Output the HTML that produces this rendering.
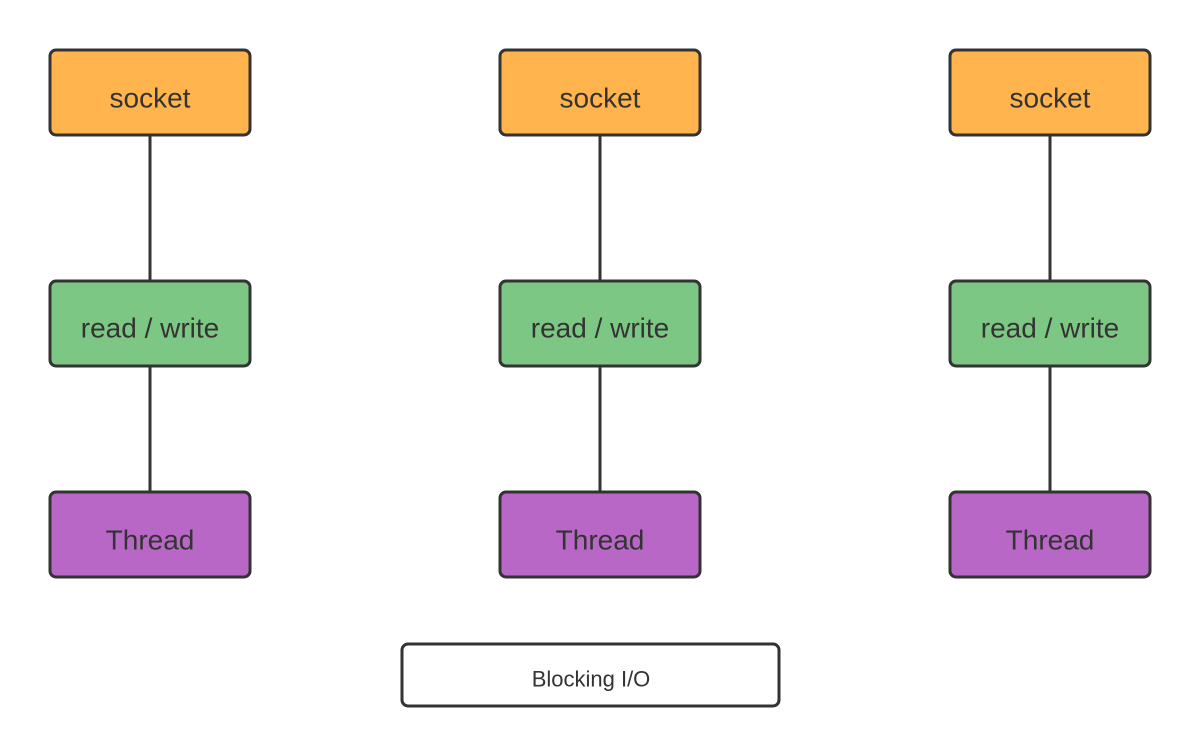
<!DOCTYPE html>
<html><head><meta charset="utf-8"><style>
body{margin:0;background:#fff;}
svg{display:block;}
text{font-family:"Liberation Sans",Arial,sans-serif;fill:#333;text-anchor:middle;dominant-baseline:central;}
</style></head><body>
<svg width="1200" height="756" viewBox="0 0 1200 756">
<g stroke="#333" stroke-width="3">
<line x1="150" y1="135" x2="150" y2="280"/><line x1="150" y1="366" x2="150" y2="491"/>
<line x1="600" y1="135" x2="600" y2="280"/><line x1="600" y1="366" x2="600" y2="491"/>
<line x1="1050" y1="135" x2="1050" y2="280"/><line x1="1050" y1="366" x2="1050" y2="491"/>
</g>
<g stroke="#333" stroke-width="3">
<rect x="50" y="50" width="200" height="85" rx="6" fill="#FFB44D"/>
<rect x="500" y="50" width="200" height="85" rx="6" fill="#FFB44D"/>
<rect x="950" y="50" width="200" height="85" rx="6" fill="#FFB44D"/>
<rect x="50" y="281" width="200" height="85" rx="6" fill="#7DC784"/>
<rect x="500" y="281" width="200" height="85" rx="6" fill="#7DC784"/>
<rect x="950" y="281" width="200" height="85" rx="6" fill="#7DC784"/>
<rect x="50" y="492" width="200" height="85" rx="6" fill="#B967C7"/>
<rect x="500" y="492" width="200" height="85" rx="6" fill="#B967C7"/>
<rect x="950" y="492" width="200" height="85" rx="6" fill="#B967C7"/>
<rect x="402" y="644" width="377" height="62" rx="6" fill="#fff"/>
</g>
<g font-size="28">
<text x="150" y="98">socket</text><text x="600" y="98">socket</text><text x="1050" y="98">socket</text>
<text x="150" y="328">read / write</text><text x="600" y="328">read / write</text><text x="1050" y="328">read / write</text>
<text x="150" y="540">Thread</text><text x="600" y="540">Thread</text><text x="1050" y="540">Thread</text>
</g>
<text x="591" y="679" font-size="22">Blocking I/O</text>
</svg>
</body></html>
